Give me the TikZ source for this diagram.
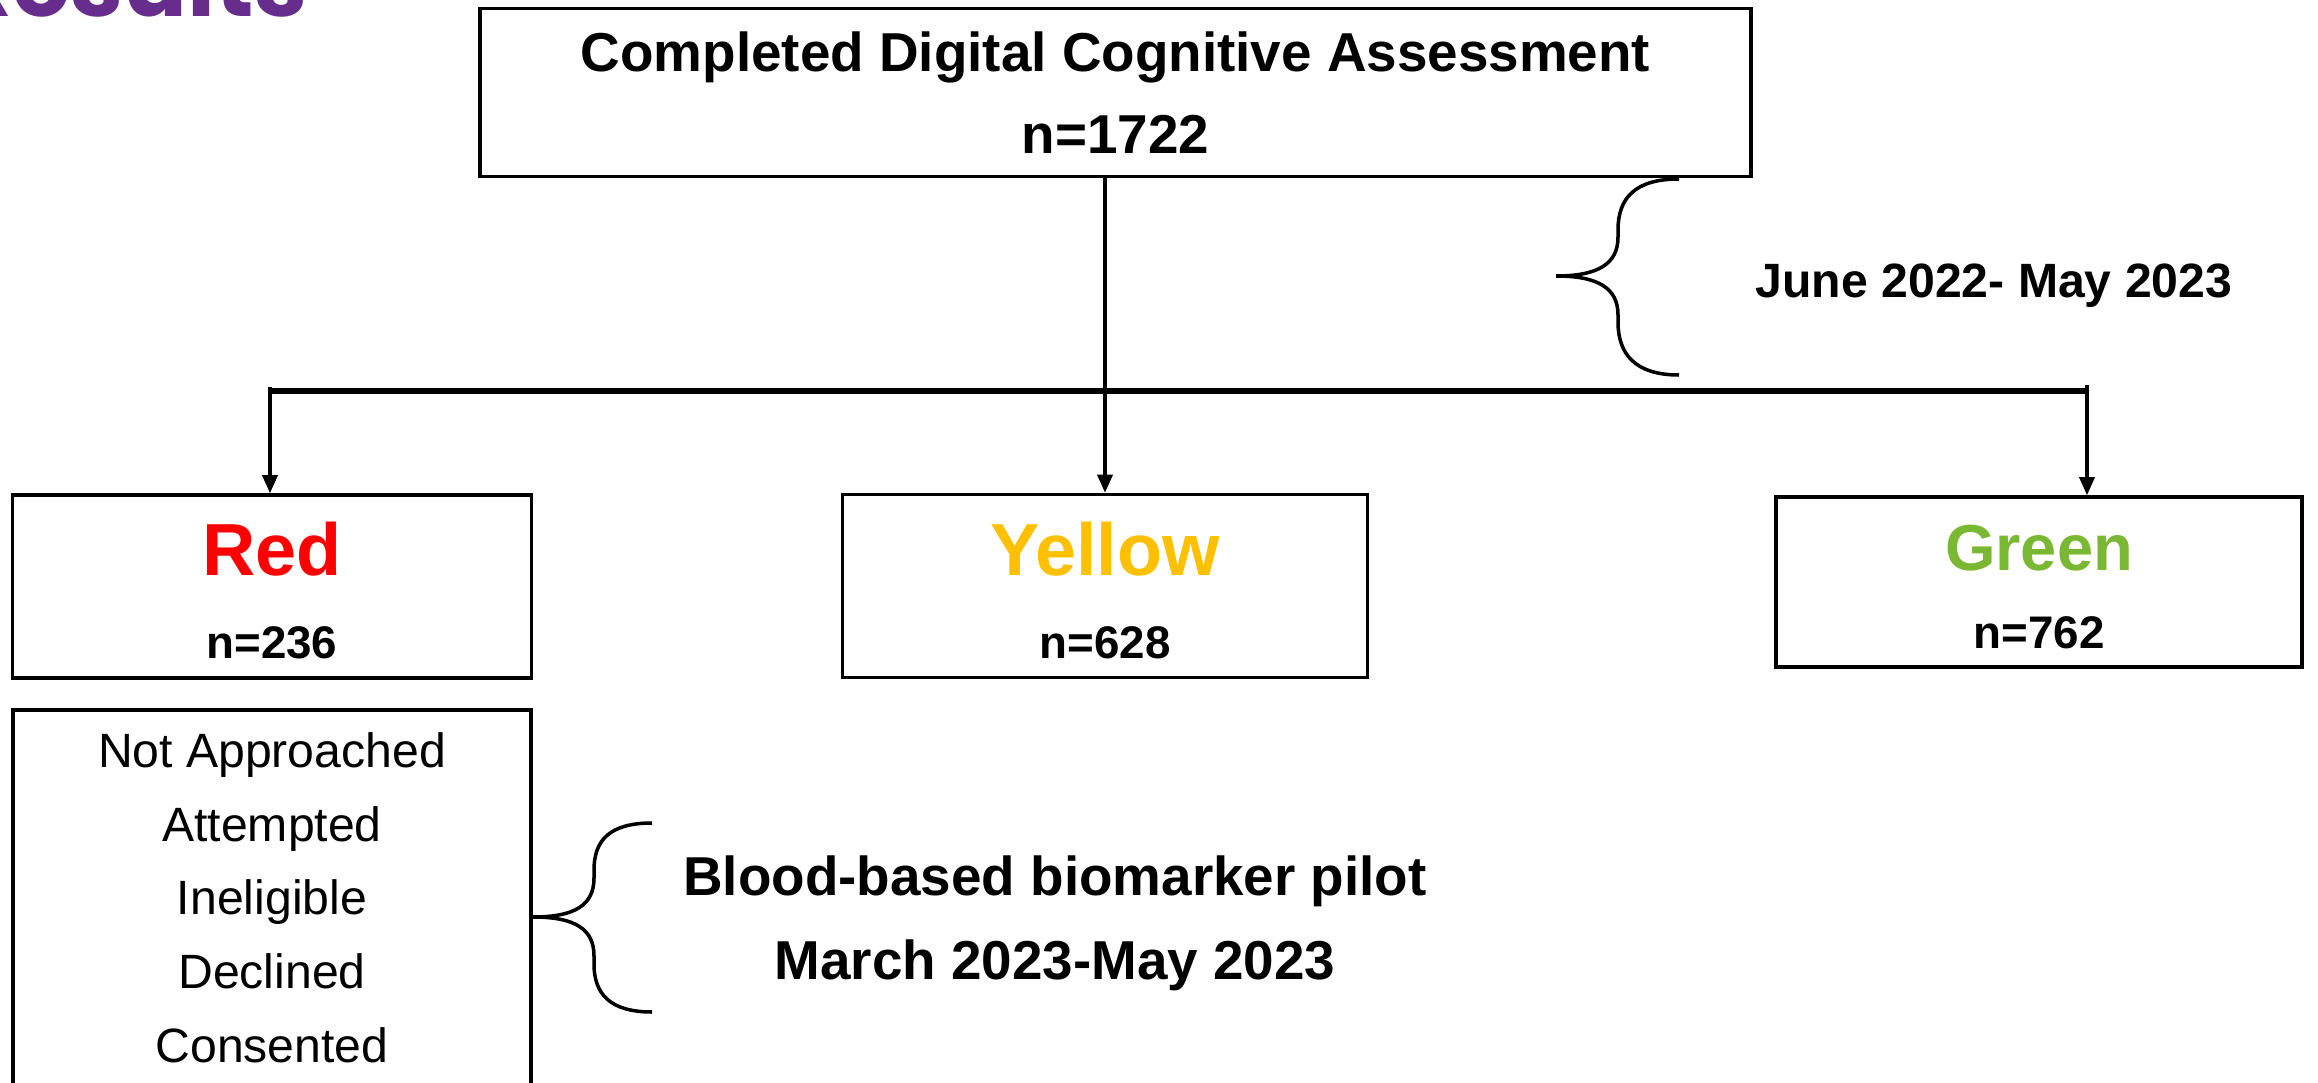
\documentclass[tikz,border=0pt]{standalone}
\usepackage{fontspec}
\setmainfont{Liberation Sans}
\newfontfamily\headfont{Poppins}
\usetikzlibrary{arrows.meta,positioning}
\definecolor{ratingred}{RGB}{255,0,0}
\definecolor{ratingyellow}{RGB}{255,192,0}
\definecolor{ratinggreen}{RGB}{122,184,52}
\definecolor{headpurple}{RGB}{102,45,140}

\begin{document}
\begin{tikzpicture}[
    box/.style={rectangle, draw, line width=1pt, align=center, inner sep=0pt},
    tier/.style={box, minimum height=1.83cm, font=\fontsize{13}{23.6}\selectfont\bfseries},
    link/.style={-{Triangle[length=1.8mm,width=1.5mm]}, line width=1pt},
    bar/.style={line width=1.6pt},
    brace/.style={line width=1pt},
    note/.style={align=center, inner sep=0pt, font=\fontsize{15.6}{23.9}\selectfont\bfseries}
]
\useasboundingbox (0,0) rectangle (23.18,-10.83);

% ============ heading, cut by the page ============
\node[anchor=base east, inner sep=0pt, text=headpurple,
      font=\fontsize{27}{28}\headfont\bfseries] (heading) at (3.08,-0.17) {Results};

% ============ total ============
\node[box, minimum width=12.71cm, minimum height=1.68cm,
      font=\fontsize{15.6}{23.35}\selectfont\bfseries] (total) at (11.155,-0.925)
    {Completed Digital Cognitive Assessment\\n=1722};

% ============ ratings ============
\node[tier, minimum width=5.19cm] (red) at (2.72,-5.865)
    {\rule{0pt}{17.5pt}{\fontsize{21}{21}\selectfont\color{ratingred}Red}\\n=236};
\node[tier, minimum width=5.25cm] (yellow) at (11.05,-5.86)
    {\rule{0pt}{17.5pt}{\fontsize{21}{21}\selectfont\color{ratingyellow}Yellow}\\n=628};
\node[tier, minimum width=5.26cm, minimum height=1.70cm,
      font=\fontsize{13}{22.2}\selectfont\bfseries] (green) at (20.39,-5.82)
    {\rule{0pt}{15.6pt}{\fontsize{18.5}{18.5}\selectfont\color{ratinggreen}Green}\\n=762};

\coordinate (bar-w) at (2.70,-3.91);
\coordinate (bar-e) at (20.87,-3.91);
\draw[bar] (bar-w) -- (bar-e);
\draw[link] (yellow.north |- total.south) -- (yellow.north);
\draw[link] ([yshift=0.04cm]bar-w) -- (bar-w |- red.north);
\draw[link] ([yshift=0.06cm]bar-e) -- (bar-e |- green.north);

% period
\draw[brace] (16.79,-1.79) .. controls (16.35,-1.79) and (16.18,-1.98) .. (16.18,-2.30)
    -- (16.18,-2.37) .. controls (16.18,-2.64) and (15.98,-2.76) .. (15.56,-2.76)
    .. controls (15.98,-2.76) and (16.18,-2.88) .. (16.18,-3.15)
    -- (16.18,-3.22) .. controls (16.18,-3.54) and (16.35,-3.75) .. (16.79,-3.75);
\node[anchor=base, inner sep=0pt, font=\fontsize{13.7}{16}\selectfont\bfseries] (period) at (19.94,-2.98)
    {June 2022- May 2023};

% ============ red follow-up ============
\node[box, minimum width=5.18cm, minimum height=3.76cm, anchor=north,
      font=\fontsize{13.7}{21}\selectfont] (outcome) at (2.72,-7.08)
    {Not Approached\\Attempted\\Ineligible\\Declined\\Consented};

\draw[brace] (6.52,-8.23) .. controls (6.10,-8.23) and (5.94,-8.40) .. (5.94,-8.70)
    -- (5.94,-8.78) .. controls (5.94,-9.05) and (5.75,-9.17) .. (5.33,-9.17)
    .. controls (5.75,-9.17) and (5.94,-9.29) .. (5.94,-9.56)
    -- (5.94,-9.64) .. controls (5.94,-9.94) and (6.10,-10.12) .. (6.52,-10.12);
\node[note] (pilot) at (10.55,-9.235) {Blood-based biomarker pilot\\March 2023-May 2023};

\end{tikzpicture}
\end{document}
